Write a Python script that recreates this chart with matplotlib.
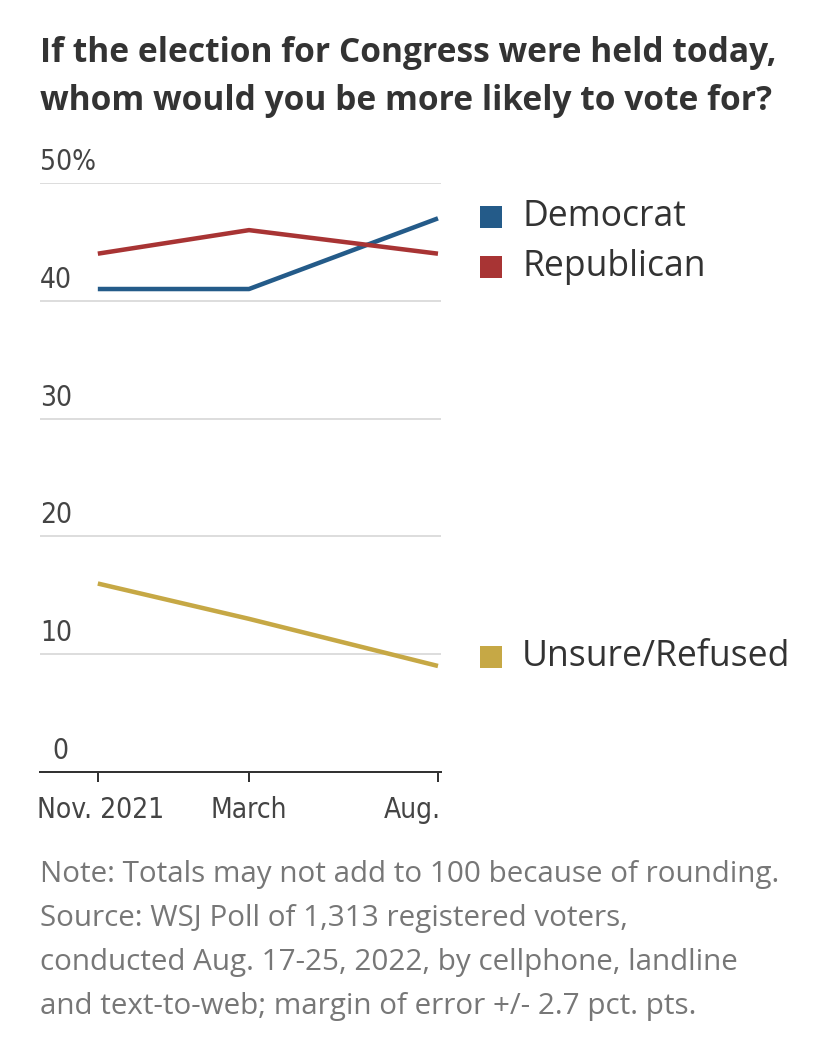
import numpy as np
import matplotlib
matplotlib.use("Agg")
import matplotlib.pyplot as plt
import matplotlib.transforms as mtransforms

# poll data (months since Nov. 2021)
months = [0, 4, 9]
tick_labels = ["Nov. 2021", "March", "Aug."]
democrat = [41, 41, 47]
republican = [44, 46, 44]
unsure = [16, 13, 9]

series = ["Democrat", "Republican", "Unsure/Refused"]
values = [democrat, republican, unsure]
colors = ["#245b89", "#a83434", "#c6a845"]
label_y = [47.1, 42.9, 9.8]   # legend label positions (nudged apart)

W, H = 828, 1047
fig = plt.figure(figsize=(W / 72, H / 72), dpi=72)
fig.patch.set_facecolor("white")

def fy(px):
    return 1 - px / H

ax = fig.add_axes([40 / W, fy(772), (441 - 40) / W, (772 - 183) / H])
ax.set_xlim(-1.53, 9.08)
ax.set_ylim(0, 50)

narrow = dict(family="DejaVu Sans", stretch="condensed")
main = ["Open Sans", "DejaVu Sans"]

for s, v, c in zip(series, values, colors):
    ax.plot(months, v, color=c, lw=4.5, solid_capstyle="butt", clip_on=False, zorder=3)

# gridlines
for g in [10, 20, 30, 40, 50]:
    ax.axhline(g, color="#dddddd", lw=2, zorder=1)

for sp in ["top", "right", "left"]:
    ax.spines[sp].set_visible(False)
ax.spines["bottom"].set_color("#333333")
ax.spines["bottom"].set_linewidth(2)

ax.set_yticks([])
ax.set_xticks(months)
ax.set_xticklabels(tick_labels, fontsize=28, color="#444444", **narrow)
ax.tick_params(axis="x", length=10, width=2, color="#333333", pad=14)
labs = ax.get_xticklabels()
labs[-1].set_ha("right")
offs = mtransforms.ScaledTranslation(3 / 72, 0, fig.dpi_scale_trans)
labs[-1].set_transform(labs[-1].get_transform() + offs)
labs[0].set_transform(labs[0].get_transform() + offs)

# y labels sit above gridlines
ytr = mtransforms.blended_transform_factory(ax.transAxes, ax.transData)
for g in [0, 10, 20, 30, 40, 50]:
    txt = "50%" if g == 50 else str(g)
    ax.text(0.0 if g else 0.03, g, txt, transform=ytr + mtransforms.ScaledTranslation(0, 7 / 72, fig.dpi_scale_trans),
            ha="left", va="bottom", fontsize=28, color="#444444", **narrow)

# legend labels at line ends
for s, c, ly in zip(series, colors, label_y):
    ax.scatter([1.0], [ly], marker="s", s=22 ** 2, color=c, transform=ytr + mtransforms.ScaledTranslation(50 / 72, 0, fig.dpi_scale_trans),
               clip_on=False, linewidths=0)
    ax.text(1.0, ly, s, transform=ytr + mtransforms.ScaledTranslation(81 / 72, 0, fig.dpi_scale_trans),
            ha="left", va="center", fontsize=35.5, color="#333333", family=main)

fig.text(40 / W, fy(62), "If the election for Congress were held today,", fontsize=33.5,
         fontweight="bold", color="#333333", family=main, va="baseline")
fig.text(40 / W, fy(110), "whom would you be more likely to vote for?", fontsize=33.5,
         fontweight="bold", color="#333333", family=main, va="baseline")

notes = ["Note: Totals may not add to 100 because of rounding.",
         "Source: WSJ Poll of 1,313 registered voters,",
         "conducted Aug. 17-25, 2022, by cellphone, landline",
         "and text-to-web; margin of error +/- 2.7 pct. pts."]
for i, n in enumerate(notes):
    fig.text(40 / W, fy(882 + 44 * i), n, fontsize=29.6, color="#777777", family=main, va="baseline")

fig.savefig("out.png", dpi=72)
